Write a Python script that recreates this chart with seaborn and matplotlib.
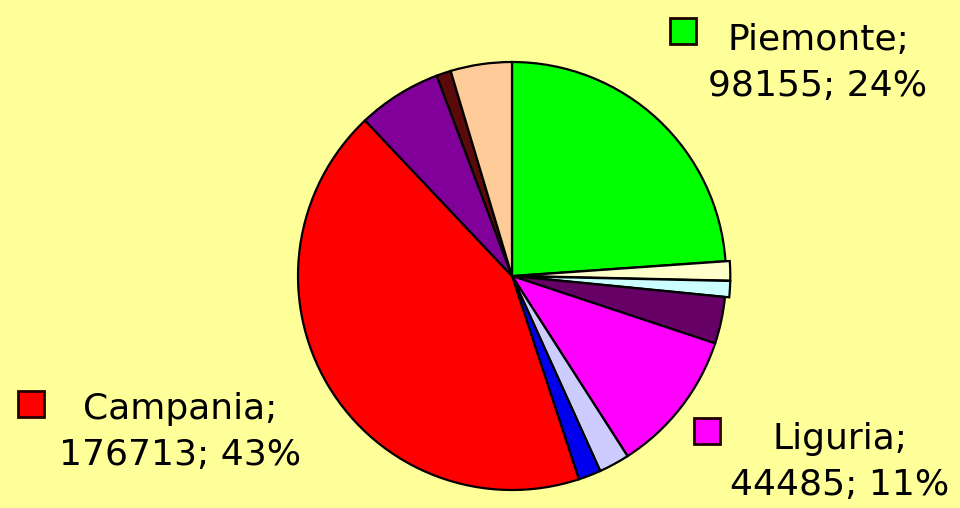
import matplotlib
matplotlib.use("Agg")
import matplotlib.pyplot as plt
import seaborn as sns
from matplotlib.patches import Rectangle

# slices clockwise from 12 o'clock (only three are labelled in the original)
regions = ["Piemonte", "r2", "r3", "r4", "Liguria", "r6", "r7",
           "Campania", "r9", "r10", "r11"]
values = [98155, 6000, 5000, 14500, 44485, 9500, 7000,
          176713, 26000, 4500, 19000]
colors = ["#00FF00", "#FFFFCC", "#CCFFFF", "#660066", "#FF00FF", "#CCCCFF",
          "#0000EE", "#FF0000", "#800099", "#5A0A0A", "#FFCC99"]
explode = [0, 0.02, 0.02, 0, 0, 0, 0, 0, 0, 0, 0]

label_text = {
    "Piemonte": "Piemonte;\n98155; 24%",
    "Liguria": "Liguria;\n44485; 11%",
    "Campania": "Campania;\n176713; 43%",
}

bg = "#FFFF99"
sns.set_theme(style="white", rc={"figure.facecolor": bg, "axes.facecolor": bg})
plt.rcParams["font.family"] = ["DejaVu Sans"]

fig = plt.figure(figsize=(9.6, 5.08), dpi=100)
ax = fig.add_axes([298 / 960, 18 / 508, 428 / 960, 428 / 508])
ax.pie(values, colors=colors, startangle=90, counterclock=False,
       explode=explode, radius=1,
       wedgeprops=dict(edgecolor="black", linewidth=1.6))
ax.set_xlim(-1.0, 1.0)
ax.set_ylim(-1.0, 1.0)
ax.set_aspect("auto")
ax.axis("off")

# label boxes: (marker left px, marker top px, text centre x px, text centre y px)
spots = {
    "Piemonte": (670, 18, 818, 63),
    "Liguria": (694, 418, 840, 462),
    "Campania": (18, 391, 180, 432),
}
for name, (mx, my, tx, ty) in spots.items():
    c = colors[regions.index(name)]
    fig.patches.append(Rectangle((mx / 960, 1 - (my + 26) / 508), 26 / 960, 26 / 508,
                                 transform=fig.transFigure, facecolor=c,
                                 edgecolor="#220000", linewidth=2))
    fig.text(tx / 960, 1 - ty / 508, label_text[name], ha="center", va="center",
             fontsize=26, color="black", linespacing=1.45)

fig.savefig("out.png", dpi=100, facecolor=bg)
